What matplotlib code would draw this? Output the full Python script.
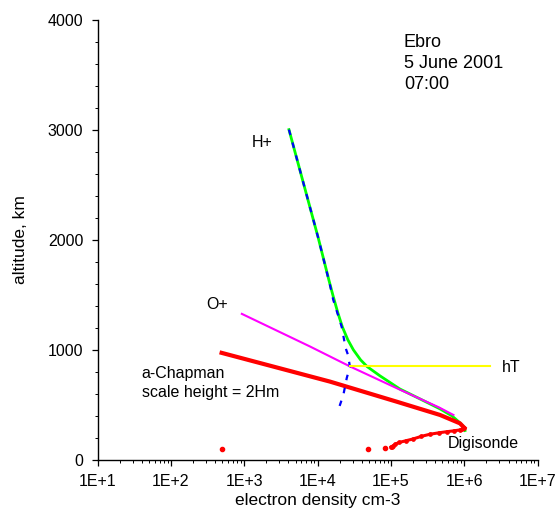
import numpy as np
import matplotlib
matplotlib.use('Agg')
import matplotlib.pyplot as plt
from matplotlib.ticker import FixedLocator, FuncFormatter, LogLocator, MultipleLocator

plt.rcParams['font.family'] = ['Liberation Sans', 'DejaVu Sans']

# total (O+ + H+) profile above the peak
total_n = [4.06e3, 1.02e4, 1.42e4, 1.63e4, 1.89e4, 2.17e4, 2.58e4, 3.07e4, 3.85e4, 4.73e4, 7.08e4,
           1.32e5, 2.48e5, 4.66e5, 6.79e5, 8.45e5, 9.89e5, 1.02e6]
total_h = [3000, 2015, 1636, 1485, 1334, 1209, 1091, 1000, 909, 848, 764,
           645, 555, 464, 400, 345, 300, 268]

# H+ profile (dashed)
hplus_n = [4.06e3, 1.02e4, 1.47e4, 1.63e4, 2.12e4, 2.41e4, 2.59e4, 2.75e4, 2.49e4, 2.24e4, 1.91e4]
hplus_h = [3000, 2015, 1591, 1455, 1212, 1015, 955, 848, 743, 591, 455]

# O+ profile
oplus_n = [925, 7.9e3, 2.75e4, 1.33e5, 4.5e5, 7.1e5]
oplus_h = [1327, 1030, 850, 638, 478, 409]

# alpha-Chapman topside, scale height = 2Hm
chap_n = [490, 1.47e4, 1.19e5, 4.66e5, 8.7e5, 1.0e6]
chap_h = [973, 712, 530, 409, 333, 292]

# Digisonde bottomside
dig_n = [1.0e6, 9.3e5, 8.7e5, 7.2e5, 5.75e5, 4.5e5, 3.4e5, 2.6e5, 2.0e5, 1.6e5, 1.3e5, 1.15e5, 1.07e5, 1.03e5, 1.0e5]
dig_h = [290, 280, 273, 265, 257, 247, 234, 215, 191, 175, 160, 145, 130, 122, 118]
dig_extra_n = [8.3e4, 4.85e4, 490]
dig_extra_h = [109, 100, 100]

# transition height hT
ht_n = [2.75e4, 2.24e6]
ht_h = [850, 850]

fig = plt.figure(figsize=(5.58, 5.15), dpi=100)
ax = fig.add_axes([0.175, 0.1068, 0.7886, 0.8553])

ax.plot(total_n, total_h, color='#00ff00', linewidth=2.0, zorder=2)
ax.plot(oplus_n, oplus_h, color='#ff00ff', linewidth=1.5, zorder=3)
ax.plot(chap_n, chap_h, color='#ff0000', linewidth=3.0, zorder=4)
ax.plot(dig_n, dig_h, color='#ff0000', linewidth=2.2, marker='o', markersize=2.4,
        linestyle='-', zorder=4)
ax.plot(dig_extra_n, dig_extra_h, color='#ff0000', marker='o', markersize=3.0,
        linestyle='none', zorder=4)
ax.plot(hplus_n, hplus_h, color='#0000ff', linewidth=1.6, linestyle=(0, (2.5, 3.5)), zorder=5)
ax.plot(ht_n, ht_h, color='#ffff00', linewidth=1.5, zorder=6)

ax.set_xscale('log')
ax.set_xlim(10, 1e7)
ax.set_ylim(0, 4000)

ax.xaxis.set_major_locator(FixedLocator([1e1, 1e2, 1e3, 1e4, 1e5, 1e6, 1e7]))
ax.xaxis.set_major_formatter(FuncFormatter(lambda v, p: f'1E+{int(round(np.log10(v)))}'))
ax.xaxis.set_minor_locator(LogLocator(base=10, subs=np.arange(2, 10), numticks=20))
ax.yaxis.set_major_locator(MultipleLocator(1000))
ax.yaxis.set_minor_locator(MultipleLocator(200))

for side in ['top', 'right']:
    ax.spines[side].set_visible(False)
for side in ['left', 'bottom']:
    ax.spines[side].set_linewidth(1.0)

ax.tick_params(which='major', direction='out', length=4.3, width=0.9, labelsize=11.5, pad=6)
ax.tick_params(which='minor', direction='out', length=2.2, width=0.7)

ax.set_xlabel('electron density cm-3', fontsize=12.5, labelpad=3)
ax.set_ylabel('altitude, km', fontsize=12.5, labelpad=14)

ax.text(1.5e5, 3865, 'Ebro\n5 June 2001\n07:00', fontsize=13, va='top', ha='left', linespacing=1.28)
ax.text(1270, 2882, 'H+', fontsize=11.5, va='center', ha='left')
ax.text(300, 1409, 'O+', fontsize=11.5, va='center', ha='left')
ax.text(39.8, 700, 'a-Chapman\nscale height = 2Hm', fontsize=11.5, va='center', ha='left',
        linespacing=1.28)
ax.text(3.24e6, 843, 'hT', fontsize=11.5, va='center', ha='left')
ax.text(6.0e5, 152, 'Digisonde', fontsize=11.5, va='center', ha='left')

plt.savefig('out.png', dpi=100)
plt.close()
